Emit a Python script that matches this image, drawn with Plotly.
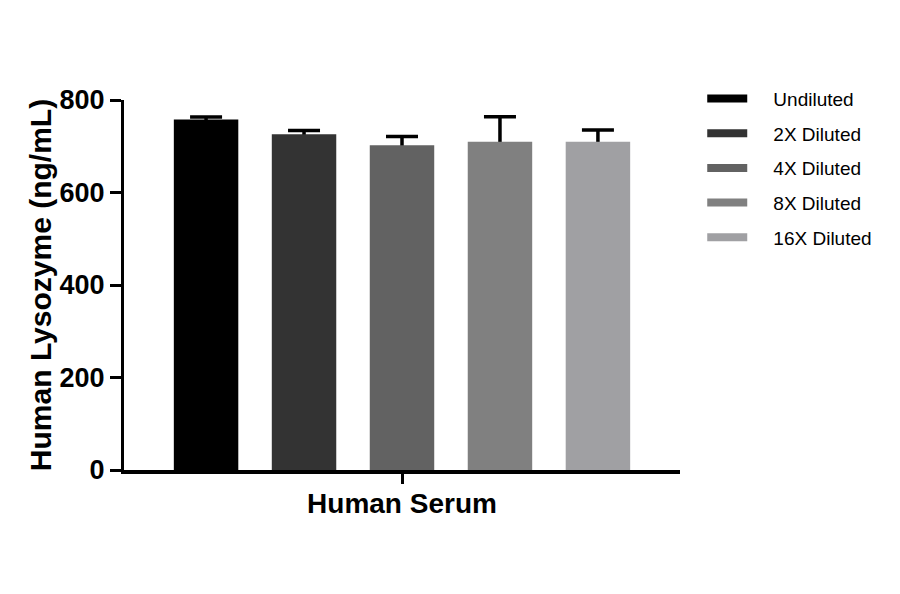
import plotly.graph_objects as go

# values
sample = "Human Serum"
dilutions = ["Undiluted", "2X Diluted", "4X Diluted", "8X Diluted", "16X Diluted"]
means = [758, 726, 702, 710, 710]
errors = [5, 8, 19, 54, 25]
colors = ["#000000", "#333333", "#626262", "#808080", "#a0a0a3"]
y_ticks = [0, 200, 400, 600, 800]

# the page has an 8px body margin, so the margins are shifted to compensate
fig = go.Figure()

# error bars first (transparent bars), so the real bars drawn later hide
# the lower end of each whisker and only the upper half shows
for i, name in enumerate(dilutions):
    fig.add_trace(
        go.Bar(
            x=[sample],
            y=[means[i]],
            offsetgroup=str(i),
            marker=dict(color="rgba(0,0,0,0)", line=dict(width=0)),
            error_y=dict(
                type="data",
                symmetric=False,
                array=[errors[i]],
                arrayminus=[12],
                color="black",
                thickness=3.5,
                width=16,
            ),
            showlegend=False,
            hoverinfo="skip",
        )
    )

for i, name in enumerate(dilutions):
    fig.add_trace(
        go.Bar(
            x=[sample],
            y=[means[i]],
            name=name,
            offsetgroup=str(i),
            marker=dict(color=colors[i], line=dict(width=0)),
            showlegend=False,
        )
    )
    # legend swatch drawn as a thick line, like the original
    fig.add_trace(
        go.Scatter(
            x=[None],
            y=[None],
            mode="lines",
            name="\u00a0\u00a0\u00a0\u00a0" + name,
            legendgroup=name,
            line=dict(color=colors[i], width=8),
        )
    )

fig.update_layout(
    width=900,
    height=594,
    margin=dict(l=116, r=228, t=92, b=132, pad=0),
    template=None,
    paper_bgcolor="white",
    plot_bgcolor="white",
    barmode="group",
    bargap=0.119,
    bargroupgap=0.342,
    font=dict(family="Liberation Sans, Arial, sans-serif", color="black"),
    legend=dict(
        x=1.04,
        xanchor="left",
        y=1.055,
        yanchor="top",
        font=dict(size=19, color="black"),
        itemwidth=40,
        tracegroupgap=7,
        traceorder="grouped",
        bgcolor="rgba(0,0,0,0)",
    ),
    xaxis=dict(
        showgrid=False,
        zeroline=False,
        showline=True,
        linecolor="black",
        linewidth=3.5,
        ticks="outside",
        ticklen=10,
        tickwidth=3,
        tickcolor="black",
        showticklabels=False,
        title=dict(
            text="<b>Human Serum</b>",
            font=dict(size=28, color="black"),
            standoff=12,
        ),
    ),
    yaxis=dict(
        range=[0, 800],
        tickvals=y_ticks,
        showgrid=False,
        zeroline=False,
        showline=True,
        linecolor="black",
        linewidth=3,
        ticks="outside",
        ticklen=11,
        tickwidth=3,
        tickcolor="black",
        tickfont=dict(size=27, color="black", weight="bold"),
        title=dict(
            text="<b>Human Lysozyme (ng/mL)</b>",
            font=dict(size=30, color="black"),
            standoff=0,
        ),
    ),
)

fig.write_html("out.html")
